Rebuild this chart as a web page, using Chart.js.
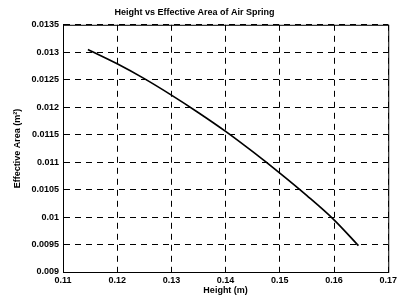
<!DOCTYPE html>
<html lang="en">
<head>
    <meta charset="UTF-8">
    <title>Height vs Effective Area of Air Spring</title>
    <script src="https://cdn.jsdelivr.net/npm/chart.js"></script>
    <style>
        html, body { margin: 0; padding: 0; background: #fff; }
        #wrap { width: 400px; height: 296px; }
    </style>
</head>
<body>
    <div id="wrap"><canvas id="areaChart"></canvas></div>
    <script>
        // Height (m) vs effective area (m^2)
        const heights = [0.1146, 0.12, 0.125, 0.13, 0.135, 0.14, 0.145, 0.15, 0.155, 0.16, 0.1645];
        const areas = [0.01305, 0.01279, 0.01252, 0.01222, 0.0119, 0.01156, 0.01119, 0.0108, 0.01039, 0.00995, 0.00948];

        const xTicks = [0.11, 0.12, 0.13, 0.14, 0.15, 0.16, 0.17];
        const yTicks = [0.009, 0.0095, 0.01, 0.0105, 0.011, 0.0115, 0.012, 0.0125, 0.013, 0.0135];

        const font = { family: 'Liberation Sans, Arial, sans-serif', size: 9, weight: 'bold' };

        // Solid box round the plot area, like MATLAB's axes
        const boxPlugin = {
            id: 'box',
            afterDraw(chart) {
                const a = chart.chartArea;
                const ctx = chart.ctx;
                ctx.save();
                ctx.strokeStyle = '#000';
                ctx.lineWidth = 1;
                ctx.setLineDash([]);
                ctx.strokeRect(a.left + 0.5, a.top + 0.5, a.right - a.left, a.bottom - a.top);
                ctx.restore();
            }
        };

        new Chart(document.getElementById('areaChart'), {
            type: 'line',
            data: {
                datasets: [{
                    data: heights.map((h, i) => ({ x: h, y: areas[i] })),
                    borderColor: '#000',
                    borderWidth: 1.7,
                    pointRadius: 0,
                    cubicInterpolationMode: 'monotone',
                    fill: false
                }]
            },
            options: {
                responsive: true,
                maintainAspectRatio: false,
                animation: false,
                layout: { padding: { left: 0, right: 11, top: 0, bottom: 0 } },
                plugins: {
                    legend: { display: false },
                    tooltip: { enabled: false },
                    title: {
                        display: true,
                        text: 'Height vs Effective Area of Air Spring',
                        color: '#000',
                        font: font,
                        padding: { top: 7, bottom: 7 }
                    }
                },
                scales: {
                    x: {
                        type: 'linear',
                        min: 0.11,
                        max: 0.17,
                        afterBuildTicks: axis => { axis.ticks = xTicks.map(v => ({ value: v })); },
                        afterFit: axis => { axis.height = 24; },
                        grid: { color: '#000', lineWidth: 1, drawTicks: false },
                        border: { display: true, color: '#000', dash: [6, 5] },
                        ticks: {
                            color: '#000',
                            font: font,
                            padding: 3,
                            maxRotation: 0,
                            callback: v => String(+v.toFixed(4))
                        },
                        title: {
                            display: true,
                            text: 'Height (m)',
                            color: '#000',
                            font: font,
                            padding: 0
                        }
                    },
                    y: {
                        type: 'linear',
                        min: 0.009,
                        max: 0.0135,
                        afterBuildTicks: axis => { axis.ticks = yTicks.map(v => ({ value: v })); },
                        afterFit: axis => { axis.width = 63; },
                        grid: { color: '#000', lineWidth: 1, drawTicks: false },
                        border: { display: true, color: '#000', dash: [6, 5] },
                        ticks: {
                            color: '#000',
                            font: font,
                            padding: 4,
                            callback: v => String(+v.toFixed(4))
                        },
                        title: {
                            display: true,
                            text: 'Effective Area (m²)',
                            color: '#000',
                            font: font,
                            padding: { top: 12, bottom: 0 }
                        }
                    }
                }
            },
            plugins: [boxPlugin]
        });
    </script>
</body>
</html>
